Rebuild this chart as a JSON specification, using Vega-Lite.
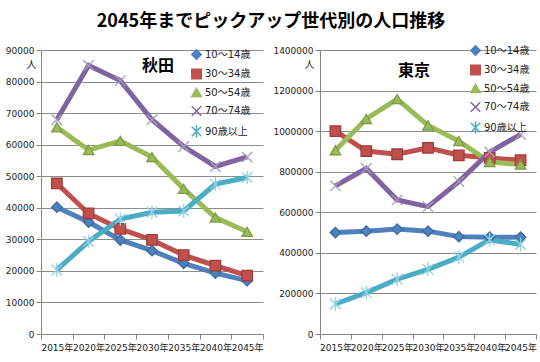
{
  "$schema": "https://vega.github.io/schema/vega-lite/v6.json",
  "background": "white",
  "padding": {"left": 5, "top": 13, "right": 2, "bottom": 2},
  "title": {"text": "2045年までピックアップ世代別の人口推移", "font": "Noto Sans CJK JP", "fontSize": 18, "fontWeight": "bold", "anchor": "middle", "offset": 14, "color": "#000000"},
  "data": {"values": [
    {"pref": "秋田", "year": "2015年", "group": "10～14歳", "value": 40200},
    {"pref": "秋田", "year": "2020年", "group": "10～14歳", "value": 35500},
    {"pref": "秋田", "year": "2025年", "group": "10～14歳", "value": 29800},
    {"pref": "秋田", "year": "2030年", "group": "10～14歳", "value": 26400},
    {"pref": "秋田", "year": "2035年", "group": "10～14歳", "value": 22400},
    {"pref": "秋田", "year": "2040年", "group": "10～14歳", "value": 19300},
    {"pref": "秋田", "year": "2045年", "group": "10～14歳", "value": 16900},
    {"pref": "秋田", "year": "2015年", "group": "30～34歳", "value": 47700},
    {"pref": "秋田", "year": "2020年", "group": "30～34歳", "value": 38200},
    {"pref": "秋田", "year": "2025年", "group": "30～34歳", "value": 33300},
    {"pref": "秋田", "year": "2030年", "group": "30～34歳", "value": 29800},
    {"pref": "秋田", "year": "2035年", "group": "30～34歳", "value": 25000},
    {"pref": "秋田", "year": "2040年", "group": "30～34歳", "value": 21700},
    {"pref": "秋田", "year": "2045年", "group": "30～34歳", "value": 18500},
    {"pref": "秋田", "year": "2015年", "group": "50～54歳", "value": 65500},
    {"pref": "秋田", "year": "2020年", "group": "50～54歳", "value": 58300},
    {"pref": "秋田", "year": "2025年", "group": "50～54歳", "value": 61200},
    {"pref": "秋田", "year": "2030年", "group": "50～54歳", "value": 56100},
    {"pref": "秋田", "year": "2035年", "group": "50～54歳", "value": 46000},
    {"pref": "秋田", "year": "2040年", "group": "50～54歳", "value": 36900},
    {"pref": "秋田", "year": "2045年", "group": "50～54歳", "value": 32400},
    {"pref": "秋田", "year": "2015年", "group": "70～74歳", "value": 67900},
    {"pref": "秋田", "year": "2020年", "group": "70～74歳", "value": 85100},
    {"pref": "秋田", "year": "2025年", "group": "70～74歳", "value": 80300},
    {"pref": "秋田", "year": "2030年", "group": "70～74歳", "value": 67900},
    {"pref": "秋田", "year": "2035年", "group": "70～74歳", "value": 59400},
    {"pref": "秋田", "year": "2040年", "group": "70～74歳", "value": 53100},
    {"pref": "秋田", "year": "2045年", "group": "70～74歳", "value": 56100},
    {"pref": "秋田", "year": "2015年", "group": "90歳以上", "value": 20300},
    {"pref": "秋田", "year": "2020年", "group": "90歳以上", "value": 29300},
    {"pref": "秋田", "year": "2025年", "group": "90歳以上", "value": 36400},
    {"pref": "秋田", "year": "2030年", "group": "90歳以上", "value": 38600},
    {"pref": "秋田", "year": "2035年", "group": "90歳以上", "value": 39000},
    {"pref": "秋田", "year": "2040年", "group": "90歳以上", "value": 47500},
    {"pref": "秋田", "year": "2045年", "group": "90歳以上", "value": 49600},
    {"pref": "東京", "year": "2015年", "group": "10～14歳", "value": 500000},
    {"pref": "東京", "year": "2020年", "group": "10～14歳", "value": 507000},
    {"pref": "東京", "year": "2025年", "group": "10～14歳", "value": 517000},
    {"pref": "東京", "year": "2030年", "group": "10～14歳", "value": 507000},
    {"pref": "東京", "year": "2035年", "group": "10～14歳", "value": 480000},
    {"pref": "東京", "year": "2040年", "group": "10～14歳", "value": 477000},
    {"pref": "東京", "year": "2045年", "group": "10～14歳", "value": 477000},
    {"pref": "東京", "year": "2015年", "group": "30～34歳", "value": 1000000},
    {"pref": "東京", "year": "2020年", "group": "30～34歳", "value": 902000},
    {"pref": "東京", "year": "2025年", "group": "30～34歳", "value": 886000},
    {"pref": "東京", "year": "2030年", "group": "30～34歳", "value": 918000},
    {"pref": "東京", "year": "2035年", "group": "30～34歳", "value": 881000},
    {"pref": "東京", "year": "2040年", "group": "30～34歳", "value": 868000},
    {"pref": "東京", "year": "2045年", "group": "30～34歳", "value": 857000},
    {"pref": "東京", "year": "2015年", "group": "50～54歳", "value": 906000},
    {"pref": "東京", "year": "2020年", "group": "50～54歳", "value": 1060000},
    {"pref": "東京", "year": "2025年", "group": "50～54歳", "value": 1158000},
    {"pref": "東京", "year": "2030年", "group": "50～54歳", "value": 1028000},
    {"pref": "東京", "year": "2035年", "group": "50～54歳", "value": 951000},
    {"pref": "東京", "year": "2040年", "group": "50～54歳", "value": 848000},
    {"pref": "東京", "year": "2045年", "group": "50～54歳", "value": 835000},
    {"pref": "東京", "year": "2015年", "group": "70～74歳", "value": 730000},
    {"pref": "東京", "year": "2020年", "group": "70～74歳", "value": 816000},
    {"pref": "東京", "year": "2025年", "group": "70～74歳", "value": 661000},
    {"pref": "東京", "year": "2030年", "group": "70～74歳", "value": 628000},
    {"pref": "東京", "year": "2035年", "group": "70～74歳", "value": 751000},
    {"pref": "東京", "year": "2040年", "group": "70～74歳", "value": 897000},
    {"pref": "東京", "year": "2045年", "group": "70～74歳", "value": 984000},
    {"pref": "東京", "year": "2015年", "group": "90歳以上", "value": 148000},
    {"pref": "東京", "year": "2020年", "group": "90歳以上", "value": 204000},
    {"pref": "東京", "year": "2025年", "group": "90歳以上", "value": 270000},
    {"pref": "東京", "year": "2030年", "group": "90歳以上", "value": 319000},
    {"pref": "東京", "year": "2035年", "group": "90歳以上", "value": 379000},
    {"pref": "東京", "year": "2040年", "group": "90歳以上", "value": 465000},
    {"pref": "東京", "year": "2045年", "group": "90歳以上", "value": 441000}
  ]},
  "spacing": 8,
  "hconcat": [
    {
      "width": 222,
      "height": 284,
      "title": {"text": "秋田", "font": "Noto Sans CJK JP", "fontSize": 16, "fontWeight": "bold", "offset": -28, "dx": 6, "color": "#000000"},
      "transform": [{"filter": "datum.pref === '秋田'"}],
      "encoding": {
        "x": {"field": "year", "type": "ordinal", "bandPosition": 0.5, "scale": {"type": "band", "paddingInner": 0, "paddingOuter": 0}, "axis": {"title": null, "labelAngle": 0, "tickBand": "extent", "labelOverlap": false, "labelPadding": 4}},
        "y": {"field": "value", "type": "quantitative", "scale": {"domain": [0, 90000], "nice": false}, "axis": {"values": [0, 10000, 20000, 30000, 40000, 50000, 60000, 70000, 80000, 90000], "format": "d", "title": "人", "titleAngle": 0, "titleX": -10, "titleY": 14, "titleAlign": "center", "titleBaseline": "middle"}},
        "color": {"field": "group", "type": "nominal", "title": null, "scale": {"domain": ["10～14歳", "30～34歳", "50～54歳", "70～74歳", "90歳以上"], "range": ["#4F81BD", "#C0504D", "#9BBB59", "#8064A2", "#4BACC6"]}, "legend": {"orient": "none", "legendX": 150, "legendY": -1}}
      },
      "layer": [
        {"mark": {"type": "line", "strokeWidth": 5}},
        {"mark": {"type": "point", "filled": true, "opacity": 1, "size": 110, "strokeWidth": 1.3},
         "encoding": {
           "shape": {"field": "group", "type": "nominal", "title": null, "scale": {"domain": ["10～14歳", "30～34歳", "50～54歳", "70～74歳", "90歳以上"], "range": ["diamond", "square", "triangle-up", "M-1,-1L1,1M-1,1L1,-1", "M-1,-1L1,1M-1,1L1,-1M0,-1.3L0,1.3"]}},
           "stroke": {"field": "group", "type": "nominal", "title": null, "scale": {"domain": ["10～14歳", "30～34歳", "50～54歳", "70～74歳", "90歳以上"], "range": ["#3A6AA3", "#A03C3A", "#7F9C45", "#A99BC0", "#8FD0E0"]}}
         }}
      ]
    },
    {
      "width": 216,
      "height": 284,
      "title": {"text": "東京", "font": "Noto Sans CJK JP", "fontSize": 16, "fontWeight": "bold", "offset": -34, "dx": -14, "color": "#000000"},
      "transform": [{"filter": "datum.pref === '東京'"}],
      "encoding": {
        "x": {"field": "year", "type": "ordinal", "bandPosition": 0.5, "scale": {"type": "band", "paddingInner": 0, "paddingOuter": 0}, "axis": {"title": null, "labelAngle": 0, "tickBand": "extent", "labelOverlap": false, "labelPadding": 4}},
        "y": {"field": "value", "type": "quantitative", "scale": {"domain": [0, 1400000], "nice": false}, "axis": {"values": [0, 200000, 400000, 600000, 800000, 1000000, 1200000, 1400000], "format": "d", "title": "人", "titleAngle": 0, "titleX": -11, "titleY": 14, "titleAlign": "center", "titleBaseline": "middle"}},
        "color": {"field": "group", "type": "nominal", "title": null, "scale": {"domain": ["10～14歳", "30～34歳", "50～54歳", "70～74歳", "90歳以上"], "range": ["#4F81BD", "#C0504D", "#9BBB59", "#8064A2", "#4BACC6"]}, "legend": {"orient": "none", "legendX": 150, "legendY": -5}}
      },
      "layer": [
        {"mark": {"type": "line", "strokeWidth": 5}},
        {"mark": {"type": "point", "filled": true, "opacity": 1, "size": 110, "strokeWidth": 1.3},
         "encoding": {
           "shape": {"field": "group", "type": "nominal", "title": null, "scale": {"domain": ["10～14歳", "30～34歳", "50～54歳", "70～74歳", "90歳以上"], "range": ["diamond", "square", "triangle-up", "M-1,-1L1,1M-1,1L1,-1", "M-1,-1L1,1M-1,1L1,-1M0,-1.3L0,1.3"]}},
           "stroke": {"field": "group", "type": "nominal", "title": null, "scale": {"domain": ["10～14歳", "30～34歳", "50～54歳", "70～74歳", "90歳以上"], "range": ["#3A6AA3", "#A03C3A", "#7F9C45", "#A99BC0", "#8FD0E0"]}}
         }}
      ]
    }
  ],
  "resolve": {
    "scale": {"y": "independent", "color": "independent", "shape": "independent", "stroke": "independent", "x": "independent"},
    "legend": {"color": "independent", "shape": "independent", "stroke": "independent"}
  },
  "config": {
    "view": {"stroke": null},
    "font": "DejaVu Sans, Noto Sans CJK JP",
    "axis": {
      "labelFont": "DejaVu Sans, Noto Sans CJK JP",
      "labelFontSize": 9,
      "labelColor": "#222222",
      "titleFont": "Noto Sans CJK JP",
      "titleFontSize": 10,
      "titleFontWeight": "normal",
      "titleColor": "#222222",
      "domainColor": "#868686",
      "tickColor": "#868686",
      "gridColor": "#8C8C8C",
      "tickSize": 5
    },
    "axisX": {"grid": false, "labelFontSize": 9},
    "axisY": {"grid": true},
    "legend": {"labelFont": "DejaVu Sans, Noto Sans CJK JP", "labelFontSize": 10, "labelColor": "#222222", "rowPadding": 2.5, "symbolSize": 90, "labelOffset": 3, "padding": 0}
  }
}
